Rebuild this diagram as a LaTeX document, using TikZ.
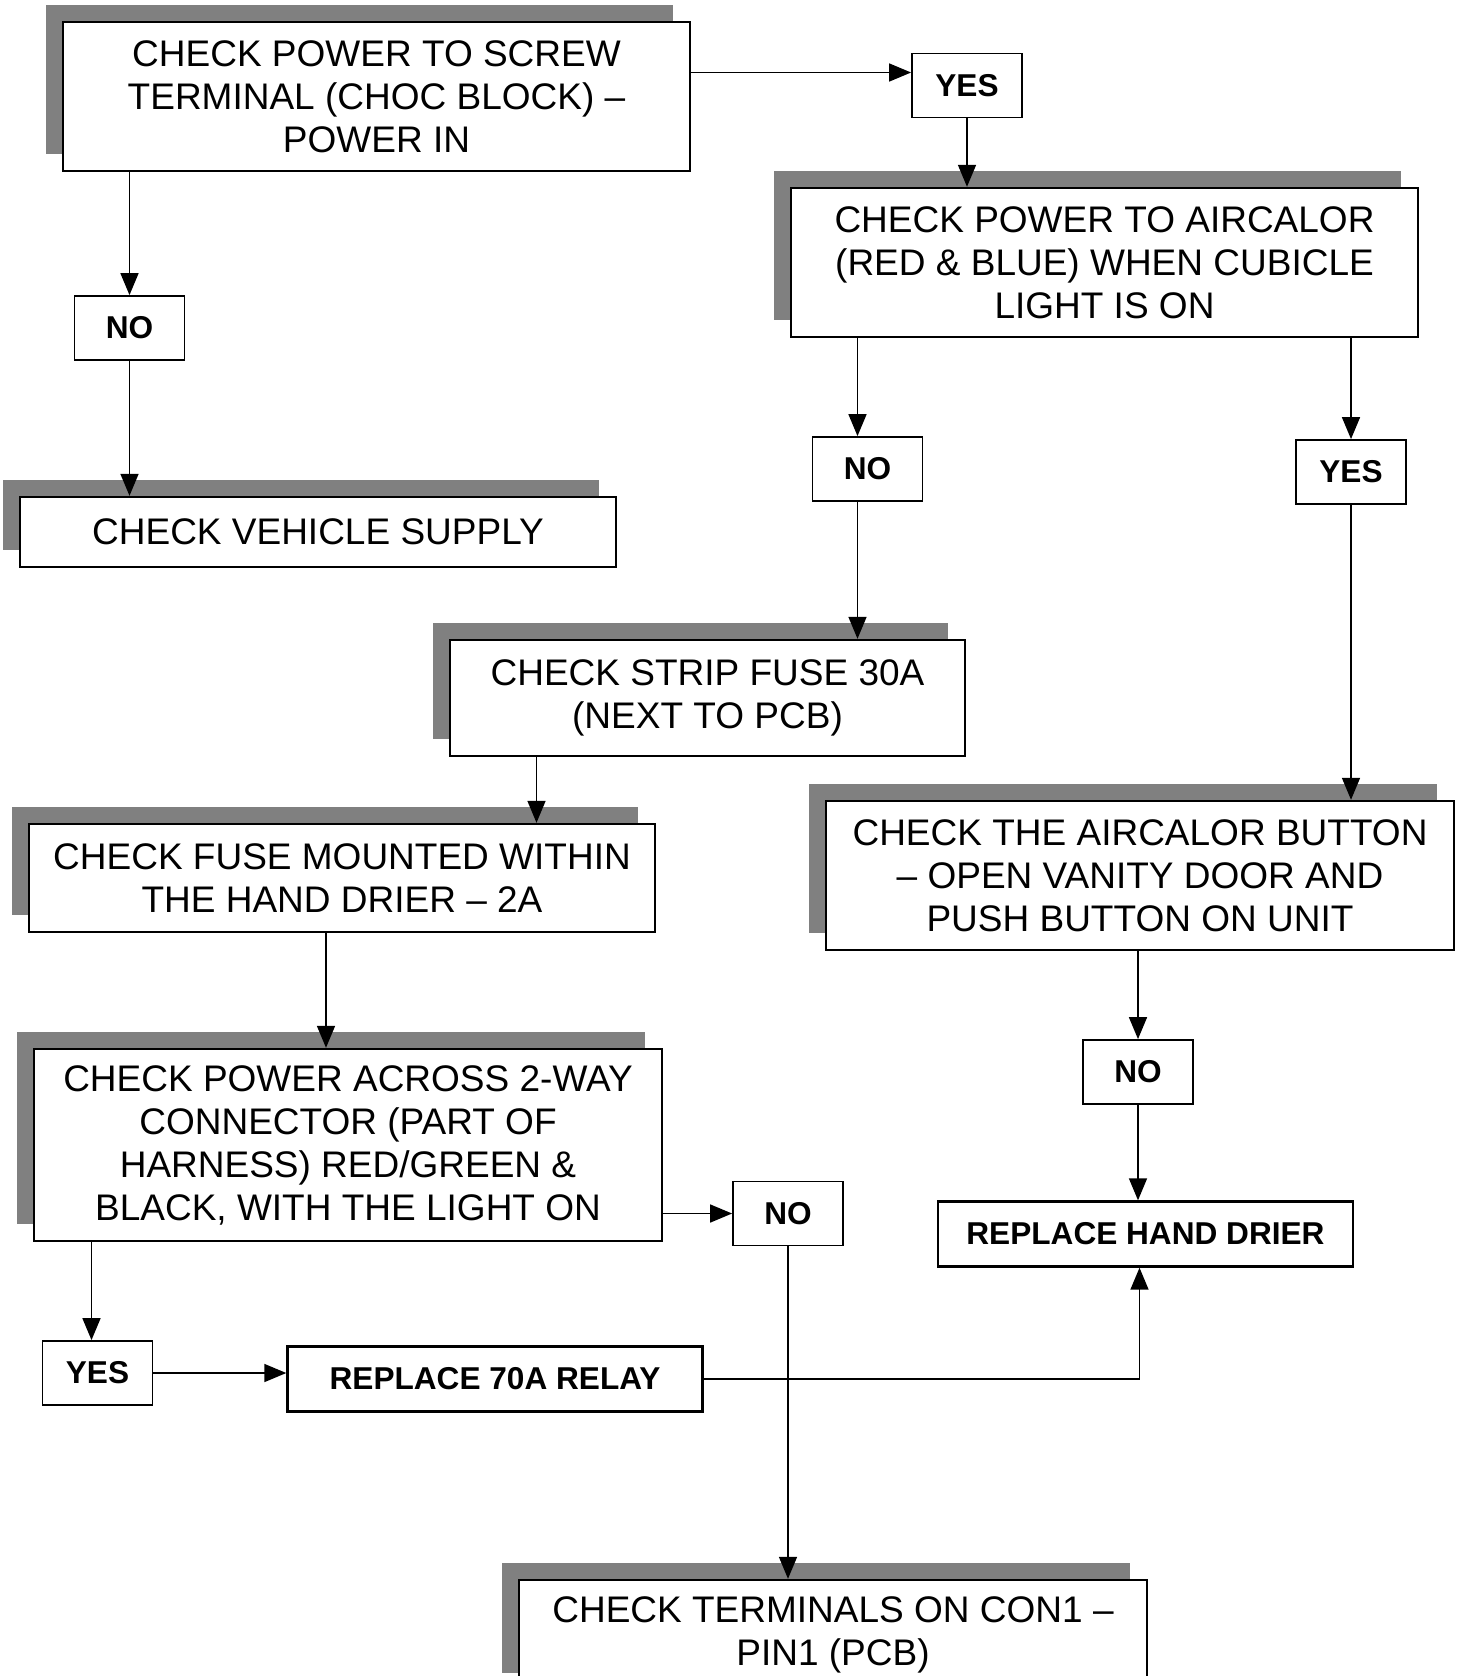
\documentclass[tikz,border=0pt]{standalone}
\usepackage{fontspec}
\setmainfont{Liberation Sans}
\usepackage{xcolor}
\usepackage{tikz}
\usetikzlibrary{arrows.meta,positioning,calc,shadows}
\definecolor{shadowgray}{HTML}{808080}

\begin{document}
\begin{tikzpicture}[x=0.5pt,y=-0.5pt,>={Triangle[length=11pt,width=9pt]},
  checkbox/.style={draw,line width=1.2pt,fill=white,align=center,inner sep=0pt,
    font=\fontsize{18.5}{21.5}\selectfont,
    drop shadow={shadow xshift=-8.5pt,shadow yshift=8.5pt,fill=shadowgray,opacity=1}},
  answer/.style={draw,line width=0.9pt,fill=white,inner sep=0pt,font=\fontsize{15.8}{18}\selectfont\bfseries,
    minimum width=55pt,minimum height=32pt},
  action/.style={draw,line width=1.2pt,fill=white,inner sep=0pt,font=\fontsize{15.8}{18}\selectfont\bfseries,
    minimum width=207.5pt,minimum height=32.5pt},
  arr/.style={->,line width=0.8pt}]
  \useasboundingbox (0,0) rectangle (1458,1676);
  % boxes
  \node[checkbox,minimum width=313.5pt,minimum height=74.5pt] (screw) at (376.5,96.5)
    {CHECK POWER TO SCREW\\TERMINAL (CHOC BLOCK) –\\POWER IN};
  \node[answer] (yesA) at (967,85.5) {YES};
  \node[checkbox,minimum width=313.5pt,minimum height=74.5pt] (aircalor) at (1104.5,262.5)
    {CHECK POWER TO AIRCALOR\\(RED \& BLUE) WHEN CUBICLE\\LIGHT IS ON};
  \node[answer] (noA) at (129.5,328) {NO};
  \node[checkbox,minimum width=298pt,minimum height=35pt] (vehicle) at (318,532)
    {CHECK VEHICLE SUPPLY};
  \node[answer] (noB) at (867.5,469) {NO};
  \node[answer] (yesB) at (1351,472) {YES};
  \node[checkbox,minimum width=257.5pt,minimum height=58pt] (strip) at (707.5,698)
    {CHECK STRIP FUSE 30A\\(NEXT TO PCB)};
  \node[checkbox,minimum width=314pt,minimum height=74.5pt] (button) at (1140,875.5)
    {CHECK THE AIRCALOR BUTTON\\– OPEN VANITY DOOR AND\\PUSH BUTTON ON UNIT};
  \node[checkbox,minimum width=313pt,minimum height=54pt] (fuse) at (342,878)
    {CHECK FUSE MOUNTED WITHIN\\THE HAND DRIER – 2A};
  \node[checkbox,minimum width=314pt,minimum height=96pt] (twoway) at (348,1145)
    {CHECK POWER ACROSS 2-WAY\\CONNECTOR (PART OF\\HARNESS) RED/GREEN \&\\BLACK, WITH THE LIGHT ON};
  \node[answer] (noC) at (1138,1072) {NO};
  \node[answer] (noD) at (788,1213.5) {NO};
  \node[action] (drier) at (1145.5,1234) {REPLACE HAND DRIER};
  \node[answer] (yesC) at (97.5,1373) {YES};
  \node[action] (relay) at (495,1379) {REPLACE 70A RELAY};
  \node[checkbox,minimum width=314pt,minimum height=55pt] (terminals) at (833,1635)
    {CHECK TERMINALS ON CON1 –\\PIN1 (PCB)};
  % connectors
  \draw[arr] ([yshift=6.5pt]yesA.west -| screw.east) -- ([yshift=6.5pt]yesA.west);
  \draw[arr] (yesA.south) -- (yesA.south |- aircalor.north);
  \draw[arr] (noA.north |- screw.south) -- (noA.north);
  \draw[arr] (noA.south) -- (noA.south |- vehicle.north);
  \draw[arr] ([xshift=-5pt]noB.north |- aircalor.south) -- ([xshift=-5pt]noB.north);
  \draw[arr] ([xshift=-5pt]noB.south) -- ([xshift=-5pt]noB.south |- strip.north);
  \draw[arr] (yesB.north |- aircalor.south) -- (yesB.north);
  \draw[arr] (yesB.south) -- (yesB.south |- button.north);
  \draw[arr] ([xshift=-85.5pt]strip.south) -- ([xshift=-85.5pt]strip.south |- fuse.north);
  \draw[arr] ([xshift=-8pt]fuse.south) -- ([xshift=-8pt]fuse.south |- twoway.north);
  \draw[arr] (twoway.east |- noD.west) -- (noD.west);
  \draw[arr] (noC.north |- button.south) -- (noC.north);
  \draw[arr] (noC.south) -- (noC.south |- drier.north);
  \draw[arr] ([xshift=-3pt]yesC.north |- twoway.south) -- ([xshift=-3pt]yesC.north);
  \draw[arr] (yesC.east) -- (yesC.east -| relay.west);
  \draw[arr] (relay.east) -| ([xshift=-3pt]drier.south);
  \draw[arr] (noD.south) -- (noD.south |- terminals.north);
\end{tikzpicture}
\end{document}
